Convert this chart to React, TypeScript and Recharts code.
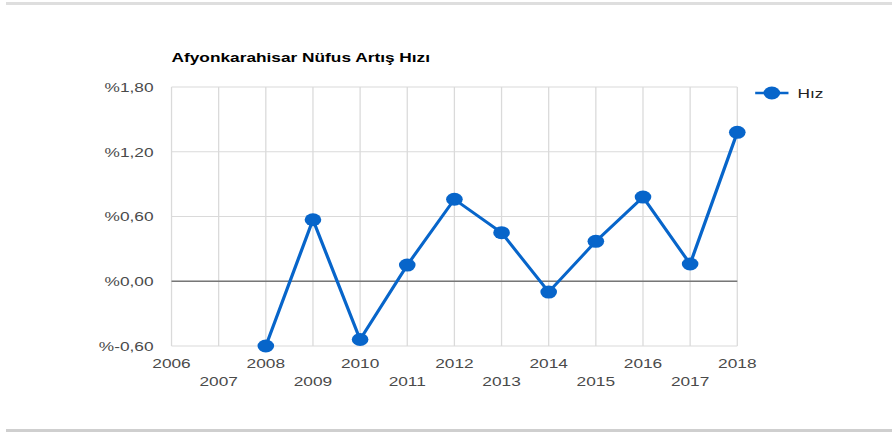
import React from "react";
import {
  LineChart,
  Line,
  XAxis,
  YAxis,
  CartesianGrid,
  ReferenceLine,
} from "recharts";

// ── Data ──────────────────────────────────────────────────────────────────────

const YEARS = [2008, 2009, 2010, 2011, 2012, 2013, 2014, 2015, 2016, 2017, 2018];
const HIZ = [-0.6, 0.57, -0.54, 0.15, 0.76, 0.45, -0.1, 0.37, 0.78, 0.16, 1.38];
const X_TICKS = [2006, 2007, 2008, 2009, 2010, 2011, 2012, 2013, 2014, 2015, 2016, 2017, 2018];
const Y_TICKS = [-0.6, 0, 0.6, 1.2, 1.8];
const TITLE = "Afyonkarahisar Nüfus Artış Hızı";
const SERIES_NAME = "Hız";

const data = YEARS.map((year, i) => ({ year, hiz: HIZ[i] }));

// ── Style ─────────────────────────────────────────────────────────────────────

const FONT = '"Liberation Sans", Arial, sans-serif';
const BLUE = "#0765ca";
const GRID = "#dadada";
const LABEL = "#4a4a4a";
const FS = 13.5;
const STRETCH = 1.28; // the reference is widened horizontally

const fmtPct = (v: number) => "%" + v.toFixed(2).replace(".", ",");

// staggered year labels: even years on the first row, odd ones below
function YearTick(props: any) {
  const { x, y, payload } = props;
  const odd = payload.value % 2 === 1;
  return (
    <text
      x={x}
      y={y + (odd ? 40 : 22)}
      textAnchor="middle"
      fill={LABEL}
      fontSize={FS}
      fontFamily={FONT}
    >
      {payload.value}
    </text>
  );
}

export default function App() {
  return (
    <div
      style={{
        position: "fixed",
        left: 0,
        top: 0,
        width: 892,
        height: 432,
        background: "#fff",
        overflow: "hidden",
      }}
    >
      {/* frame rules */}
      <div style={{ position: "absolute", left: 6, top: 2, width: 886, height: 3, background: "#dedede" }} />
      <div style={{ position: "absolute", left: 6, top: 429, width: 886, height: 3, background: "#cfcfcf" }} />

      <div
        style={{
          position: "absolute",
          left: 0,
          top: 0,
          width: 697,
          height: 432,
          transform: `scaleX(${STRETCH})`,
          transformOrigin: "0 0",
        }}
      >
        <LineChart
          width={697}
          height={432}
          data={data}
          margin={{ top: 87, right: 121, bottom: 56, left: 0 }}
        >
          <CartesianGrid stroke={GRID} strokeWidth={1} />
          <XAxis
            dataKey="year"
            type="number"
            domain={[2006, 2018]}
            ticks={X_TICKS}
            interval={0}
            height={30}
            tickSize={0}
            tickMargin={0}
            axisLine={false}
            tickLine={false}
            tick={<YearTick />}
          />
          <YAxis
            type="number"
            domain={[-0.6, 1.8]}
            ticks={Y_TICKS}
            width={134}
            tickSize={0}
            tickMargin={14}
            axisLine={false}
            tickLine={false}
            tickFormatter={fmtPct}
            tick={{ fill: LABEL, fontSize: FS, fontFamily: FONT }}
          />
          <ReferenceLine y={0} stroke="#777" strokeWidth={1.5} />
          <Line
            type="linear"
            dataKey="hiz"
            name={SERIES_NAME}
            stroke={BLUE}
            strokeWidth={2.6}
            dot={{ r: 6.5, fill: BLUE, stroke: BLUE, strokeWidth: 0 }}
            activeDot={false}
            isAnimationActive={false}
          />
        </LineChart>

        {/* title + legend */}
        <svg
          width={697}
          height={432}
          style={{ position: "absolute", left: 0, top: 0, pointerEvents: "none" }}
        >
          <text x={134} y={62} fontFamily={FONT} fontSize={FS} fontWeight="bold" fill="#000">
            {TITLE}
          </text>
          <line x1={590} y1={93} x2={616} y2={93} stroke={BLUE} strokeWidth={2.6} />
          <circle cx={603} cy={93} r={6.5} fill={BLUE} />
          <text x={623} y={93} dy="0.355em" fontFamily={FONT} fontSize={FS} fill="#222">
            {SERIES_NAME}
          </text>
        </svg>
      </div>
    </div>
  );
}
